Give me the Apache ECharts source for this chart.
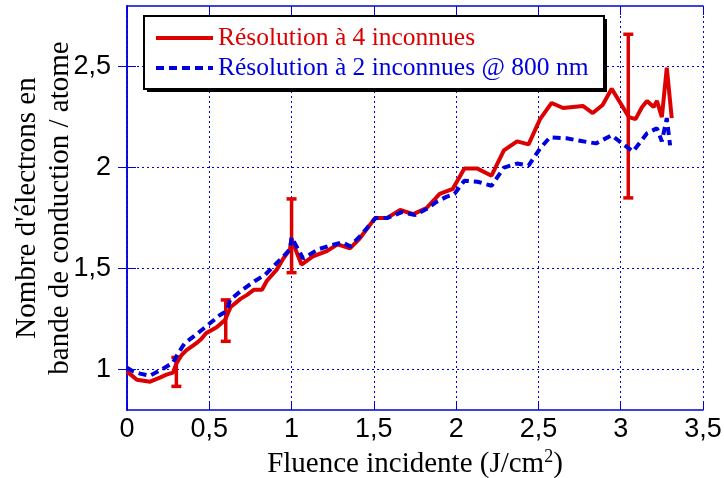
<!DOCTYPE html>
<html>
<head>
<meta charset="utf-8">
<script src="https://cdn.jsdelivr.net/npm/echarts@6/dist/echarts.min.js"></script>
<style>html,body{margin:0;padding:0;background:#fff;}#c{width:724px;height:478px;}</style>
</head>
<body>
<div id="c"></div>
<script>
const redX = [0.00,0.03,0.06,0.10,0.14,0.17,0.20,0.24,0.28,0.30,0.33,0.36,0.42,0.45,0.48,0.545,0.595,0.63,0.69,0.73,0.77,0.82,0.85,0.91,0.95,0.99,1.00,1.06,1.13,1.21,1.28,1.355,1.415,1.507,1.578,1.66,1.74,1.82,1.90,1.98,2.05,2.13,2.215,2.29,2.37,2.44,2.51,2.58,2.65,2.77,2.83,2.89,2.945,3.05,3.09,3.13,3.16,3.20,3.22,3.25,3.28,3.31];
const redY = [0.99,0.97,0.95,0.945,0.94,0.95,0.96,0.975,0.985,1.03,1.07,1.095,1.13,1.15,1.18,1.21,1.245,1.31,1.35,1.37,1.395,1.395,1.44,1.495,1.55,1.595,1.645,1.52,1.56,1.585,1.62,1.60,1.65,1.75,1.75,1.79,1.77,1.80,1.87,1.895,1.995,1.995,1.96,2.085,2.13,2.115,2.24,2.32,2.295,2.305,2.27,2.31,2.39,2.25,2.24,2.30,2.33,2.30,2.33,2.25,2.495,2.245];
const blueX = [0.00,0.04,0.08,0.14,0.21,0.28,0.31,0.35,0.43,0.49,0.565,0.606,0.626,0.70,0.78,0.84,0.90,0.95,0.99,1.00,1.07,1.16,1.24,1.31,1.355,1.415,1.51,1.58,1.67,1.75,1.82,1.88,1.94,1.99,2.05,2.13,2.215,2.29,2.37,2.44,2.51,2.57,2.67,2.77,2.85,2.945,3.015,3.075,3.16,3.22,3.25,3.28,3.30];
const blueY = [1.01,0.99,0.98,0.97,1.0,1.035,1.08,1.13,1.18,1.22,1.27,1.29,1.345,1.395,1.44,1.47,1.52,1.56,1.595,1.655,1.55,1.595,1.615,1.63,1.61,1.66,1.75,1.75,1.78,1.765,1.795,1.83,1.855,1.87,1.935,1.93,1.91,2.0,2.02,2.01,2.095,2.15,2.145,2.13,2.12,2.16,2.115,2.08,2.17,2.195,2.13,2.245,2.11];
const errX = [0.3, 0.6, 1.0, 3.046];
const errLow = [0.917, 1.14, 1.48, 1.85];
const errHigh = [1.06, 1.345, 1.845, 2.66];
const xTicks = [0, 0.5, 1, 1.5, 2, 2.5, 3, 3.5];
const yTicks = [1, 1.5, 2, 2.5];
const seriesNames = ['Résolution à 4 inconnues', 'Résolution à 2 inconnues @ 800 nm'];

const RED = '#dd0000', BLUE = '#0000dd', AX = '#0000e0';
const fmt = v => String(v).replace('.', ',');
const redData = redX.map((x, i) => [x, redY[i]]);
const blueData = blueX.map((x, i) => [x, blueY[i]]);
const errData = errX.map((x, i) => [x, errLow[i], errHigh[i]]);

const chart = echarts.init(document.getElementById('c'));
const axLine = {show: true, lineStyle: {color: AX, width: 1.5}};
const grid = {type: [2, 3], color: AX, width: 1};
chart.setOption({
  animation: false,
  backgroundColor: '#fff',
  grid: {left: 127, right: 21, top: 6, bottom: 68, containLabel: false, outerBoundsMode: 'none'},
  graphic: [
    {type: 'rect', left: 147, top: 19, shape: {width: 460, height: 73}, style: {fill: '#000'}, z: 10},
    {type: 'rect', left: 143, top: 15, shape: {width: 460, height: 73}, style: {fill: '#fff', stroke: '#000', lineWidth: 2}, z: 11}
  ],
  legend: {
    orient: 'vertical', left: 143, top: 15, z: 12,
    padding: [10, 13, 8, 11], itemGap: 4,
    itemWidth: 57, itemHeight: 14,
    itemStyle: {opacity: 0},
    lineStyle: {width: 4},
    textStyle: {fontFamily: 'Liberation Serif', fontSize: 25.5, lineHeight: 26},
    data: [
      {name: seriesNames[0], textStyle: {color: RED}},
      {name: seriesNames[1], textStyle: {color: BLUE}}
    ]
  },
  xAxis: [{
    type: 'value', min: 0, max: 3.5, interval: 0.5,
    axisLine: axLine,
    axisTick: {show: true, inside: true, length: 9, lineStyle: {color: AX}},
    axisLabel: {formatter: fmt, color: '#000', fontFamily: 'Liberation Sans', fontSize: 27, margin: 6, customValues: xTicks},
    splitLine: {show: true, lineStyle: grid},
    name: 'Fluence incidente (J/cm{sup|2})',
    nameLocation: 'middle', nameGap: 38, nameMoveOverlap: false,
    nameTextStyle: {fontFamily: 'Liberation Serif', fontSize: 29, color: '#000',
      rich: {sup: {fontFamily: 'Liberation Serif', fontSize: 18, verticalAlign: 'bottom', padding: [0, 0, 15, 0], color: '#000'}}}
  }, {
    type: 'value', min: 0, max: 3.5, interval: 0.5, position: 'top',
    axisLine: axLine,
    axisTick: {show: true, inside: true, length: 9, lineStyle: {color: AX}},
    axisLabel: {show: false}, splitLine: {show: false}
  }],
  yAxis: [{
    type: 'value', min: 0.8, max: 2.8, interval: 0.1,
    axisLine: axLine,
    axisTick: {show: true, inside: true, length: 9, lineStyle: {color: AX}, customValues: yTicks},
    axisLabel: {formatter: fmt, color: '#000', fontFamily: 'Liberation Sans', fontSize: 27, margin: 16, customValues: yTicks},
    splitLine: {show: true, lineStyle: grid},
    name: "Nombre d'électrons en\nbande de conduction / atome",
    nameLocation: 'middle', nameGap: 50, nameMoveOverlap: false,
    nameTextStyle: {fontFamily: 'Liberation Serif', fontSize: 29, color: '#000', lineHeight: 33, align: 'center'}
  }, {
    type: 'value', min: 0.8, max: 2.8, interval: 0.1, position: 'right',
    axisLine: axLine,
    axisTick: {show: true, inside: true, length: 9, lineStyle: {color: AX}, customValues: yTicks},
    axisLabel: {show: false}, splitLine: {show: false}
  }],
  series: [{
    name: seriesNames[0], type: 'line', data: redData, symbol: 'none',
    lineStyle: {color: RED, width: 4}, itemStyle: {color: RED}, z: 3
  }, {
    name: 'err', type: 'custom', data: errData, z: 4,
    renderItem: function (params, api) {
      const x = api.value(0);
      const lo = api.coord([x, api.value(1)]);
      const hi = api.coord([x, api.value(2)]);
      const w = 5;
      const st = {stroke: RED, lineWidth: 3.5};
      return {type: 'group', children: [
        {type: 'line', shape: {x1: lo[0], y1: lo[1], x2: hi[0], y2: hi[1]}, style: st},
        {type: 'line', shape: {x1: lo[0] - w, y1: lo[1], x2: lo[0] + w, y2: lo[1]}, style: st},
        {type: 'line', shape: {x1: hi[0] - w, y1: hi[1], x2: hi[0] + w, y2: hi[1]}, style: st}
      ]};
    }
  }, {
    name: seriesNames[1], type: 'line', data: blueData, symbol: 'none',
    lineStyle: {color: BLUE, width: 4, type: [8, 5]}, itemStyle: {color: BLUE}, z: 5
  }]
});
</script>
</body>
</html>
